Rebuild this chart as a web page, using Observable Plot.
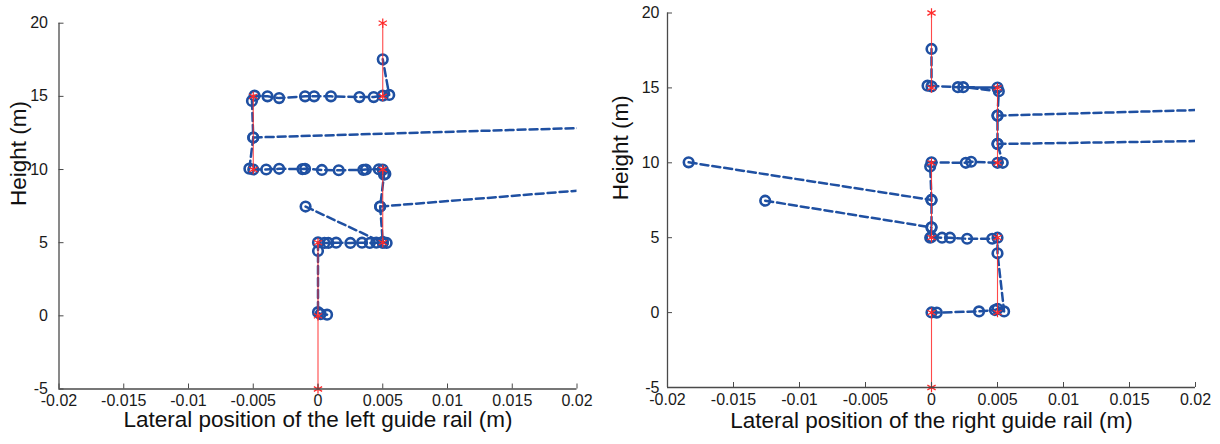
<!DOCTYPE html>
<html><head><meta charset="utf-8">
<script src="https://cdn.jsdelivr.net/npm/d3@7"></script>
<script src="https://cdn.jsdelivr.net/npm/@observablehq/plot@0.6"></script>
<style>
html,body{margin:0;padding:0;background:#fff;}
#wrap{display:flex;width:1220px;height:444px;overflow:hidden;}
#wrap svg{font-family:"Liberation Sans",Arial,sans-serif;display:block;}
</style></head><body><div id="wrap"></div>
<script>
// ---- tick values and labels ----
const xTickValues = [-0.02, -0.015, -0.01, -0.005, 0, 0.005, 0.01, 0.015, 0.02];
const xTickLabels = ["-0.02", "-0.015", "-0.01", "-0.005", "0", "0.005", "0.01", "0.015", "0.02"];
const yTickValues = [-5, 0, 5, 10, 15, 20];
const yTickLabels = ["-5", "0", "5", "10", "15", "20"];
const yLabel = "Height (m)";
const leftXLabel = "Lateral position of the left guide rail (m)";
const rightXLabel = "Lateral position of the right guide rail (m)";

// ---- nominal rail profile (red); NaN separates rail sections ----
const leftRailX  = [0, 0, 0, NaN, 0.005, 0.005, NaN, -0.005, -0.005, NaN, 0.005, 0.005];
const leftRailY  = [-5, 0, 5, NaN, 5, 10, NaN, 10, 15, NaN, 15, 20];
const rightRailX = [0, 0, NaN, 0.005, 0.005, NaN, 0, 0, NaN, 0.005, 0.005, NaN, 0, 0];
const rightRailY = [-5, 0, NaN, 0, 5, NaN, 5, 10, NaN, 10, 15, NaN, 15, 20];

// ---- measured positions (blue); NaN separates line pieces ----
const leftMeasX = [
  0.0007, 0.0002, 0.0000, 0.0000, 0.0000,
  0.0005, 0.0008, 0.0014, 0.0025, 0.0034, 0.0040, 0.0045, 0.0050, 0.0053,
  0.0050, 0.0048, 0.0051, 0.0052,
  0.0050, 0.0047, 0.0037, 0.0035, 0.0016, 0.0003, -0.0010, -0.0012, -0.0030, -0.0040, -0.0050, -0.0053,
  -0.0050, -0.0051, -0.0049,
  -0.0039, -0.0030, -0.0010, -0.0003, 0.0010, 0.0032, 0.0043, 0.0050, 0.0055,
  0.0050,
  NaN,
  -0.00096, 0.0050,
  NaN,
  0.0048, 0.114, -0.0050
];
const leftMeasY = [
  0.08, 0.12, 0.25, 4.43, 5.02,
  4.98, 4.98, 5.0, 4.98, 5.0, 4.98, 5.0, 5.0, 4.98,
  5.05, 7.47, 9.65, 9.7,
  10.0, 10.02, 10.0, 9.98, 9.95, 9.97, 10.05, 10.03, 10.05, 10.0, 10.0, 10.06,
  12.19, 14.69, 15.05,
  15.0, 14.88, 15.0, 15.0, 15.0, 14.95, 14.95, 15.05, 15.1,
  17.53,
  NaN,
  7.47, 5.0,
  NaN,
  7.47, 15.24, 12.19
];
const rightMeasX = [
  0.0000, 0.0004, 0.0036, 0.0048, 0.0050, 0.0055,
  0.0050, 0.0050,
  0.0046, 0.0027, 0.0014, 0.0008, 0.0000, -0.0001,
  0.0000, 0.0000, -0.0001, 0.0000,
  0.0026, 0.0030, 0.0050, 0.0054,
  0.0050, 0.0050, 0.0051, 0.0024, 0.0050, 0.0020, -0.0003, 0.0000,
  0.0000,
  NaN,
  -0.0184, 0.0000,
  NaN,
  -0.0126, 0.0000,
  NaN,
  0.0050, 0.06,
  NaN,
  0.0050, 0.06
];
const rightMeasY = [
  0.01, 0.0, 0.08, 0.17, 0.25, 0.08,
  3.96, 5.0,
  4.93, 4.93, 5.0, 5.0, 5.05, 5.0,
  5.69, 7.52, 9.75, 10.03,
  10.0, 10.07, 10.0, 10.0,
  11.26, 13.15, 14.78, 15.05, 15.02, 15.05, 15.15, 15.1,
  17.6,
  NaN,
  10.03, 7.52,
  NaN,
  7.47, 5.69,
  NaN,
  13.15, 14.5,
  NaN,
  11.26, 11.95
];

const BLUE = "#1f50a2";
const RED = "#ff2a2a";
const AXIS = "#4a4a4a";
const xFmt = new Map(xTickValues.map((v, i) => [v, xTickLabels[i]]));
const yFmt = new Map(yTickValues.map((v, i) => [v, yTickLabels[i]]));

function panel(o) {
  const rail = o.railX.map((x, i) => ({x, y: o.railY[i]}));
  const meas = o.measX.map((x, i) => ({x, y: o.measY[i]}));
  return Plot.plot({
    width: o.width, height: 444,
    marginLeft: o.ml, marginRight: o.mr, marginTop: o.mt, marginBottom: o.mb,
    x: {domain: [-0.02, 0.02]},
    y: {domain: [-5, 20]},
    style: {fontFamily: "'Liberation Sans', Arial, sans-serif", fontSize: "16px", color: "#1a1a1a", background: "#fff"},
    marks: [
      Plot.line(meas, {x: "x", y: "y", stroke: BLUE, strokeWidth: 2.5, strokeDasharray: "8,4", clip: true}),
      Plot.dot(meas, {x: "x", y: "y", r: 4.8, stroke: BLUE, strokeWidth: 2.6, fill: "none", clip: true}),
      Plot.line(rail, {x: "x", y: "y", stroke: RED, strokeWidth: 1.1, strokeOpacity: 0.85}),
      Plot.dot(rail, {x: "x", y: "y", symbol: "asterisk", r: 4.5, stroke: RED, strokeWidth: 1.2}),
      Plot.ruleX([-0.02], {stroke: AXIS, strokeWidth: 1.3}),
      Plot.ruleY([-5], {stroke: AXIS, strokeWidth: 1.3}),
      Plot.axisX({ticks: xTickValues, tickFormat: d => xFmt.get(d), tickSize: -5, tickPadding: 11, label: null, stroke: AXIS, fontSize: 16}),
      Plot.axisY({ticks: yTickValues, tickFormat: d => yFmt.get(d), tickSize: -5, tickPadding: o.yPad, label: null, stroke: AXIS, fontSize: 16}),
      Plot.text([o.xLabel], {frameAnchor: "bottom", dy: o.xLabDy, fontSize: 22.5, fill: "#111"}),
      Plot.text([yLabel], {frameAnchor: "left", dx: o.yLabDx, rotate: -90, fontSize: 22.5, fill: "#111"})
    ]
  });
}

const wrap = document.getElementById("wrap");
wrap.appendChild(panel({
  railX: leftRailX, railY: leftRailY, measX: leftMeasX, measY: leftMeasY, xLabel: leftXLabel,
  width: 604, ml: 58.5, mr: 27.5, mt: 22.7, mb: 55.5, yPad: 16, xLabDy: 38, yLabDx: -40
}));
wrap.appendChild(panel({
  railX: rightRailX, railY: rightRailY, measX: rightMeasX, measY: rightMeasY, xLabel: rightXLabel,
  width: 616, ml: 63, mr: 25, mt: 12.5, mb: 57, yPad: 13, xLabDy: 40, yLabDx: -47
}));
</script></body></html>
